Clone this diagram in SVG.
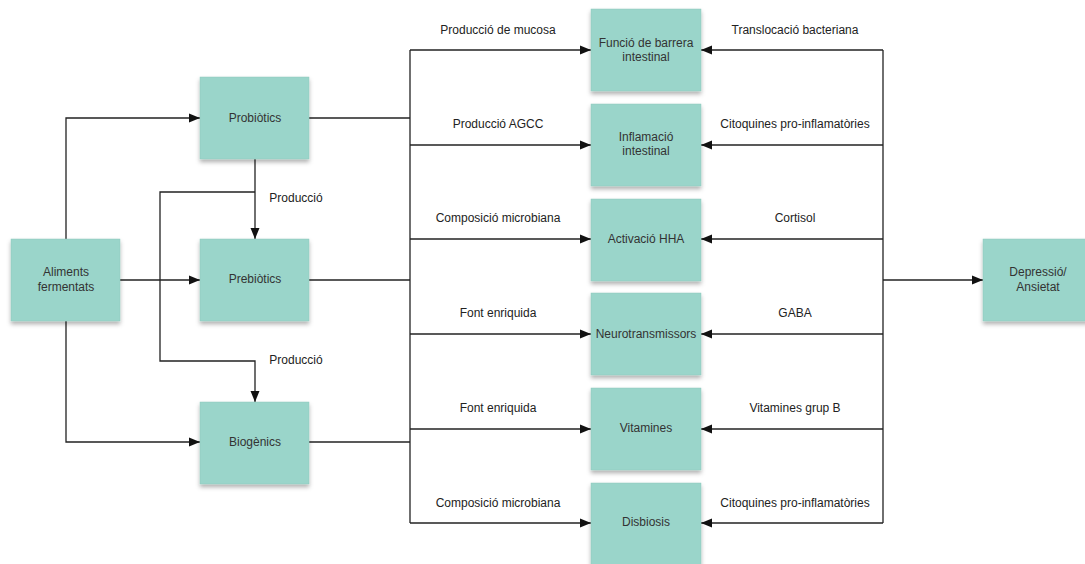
<svg xmlns="http://www.w3.org/2000/svg" width="1085" height="564" viewBox="0 0 1085 564">
<defs>
<marker id="ah" markerWidth="12" markerHeight="10" refX="11" refY="5" orient="auto" markerUnits="userSpaceOnUse">
<path d="M0,0.5 L11,5 L0,9.5 Z" fill="#111"/>
</marker>
<filter id="sh" x="-10%" y="-10%" width="130%" height="130%">
<feDropShadow dx="0" dy="3" stdDeviation="2" flood-color="#000" flood-opacity="0.3"/>
</filter>
<style>
.box{fill:#9AD5CA;stroke:#8ec8bd;stroke-width:0.5;filter:url(#sh)}
.t{font-family:"Liberation Sans",Arial,sans-serif;font-size:12px;fill:#333;text-anchor:middle}
.l{font-family:"Liberation Sans",Arial,sans-serif;font-size:12px;fill:#222;text-anchor:middle}
.c{fill:none;stroke:#222;stroke-width:1.3}
.a{marker-end:url(#ah)}
</style>
</defs>
<rect width="1085" height="564" fill="#fff"/>
<g id="connectors">
<path class="c a" d="M66,239 V118 H200"/>
<path class="c a" d="M120,280 H200"/>
<path class="c a" d="M66,321 V442 H200"/>
<path class="c a" d="M255,159 V239"/>
<path class="c a" d="M255,192 H160 V361 H255 V402"/>
<path class="c" d="M309,118 H410"/>
<path class="c" d="M309,280 H410"/>
<path class="c" d="M309,442 H410"/>
<path class="c" d="M410,50 V523"/>
<path class="c a" d="M410,50 H591"/>
<path class="c a" d="M410,145 H591"/>
<path class="c a" d="M410,239 H591"/>
<path class="c a" d="M410,334 H591"/>
<path class="c a" d="M410,429 H591"/>
<path class="c a" d="M410,523 H591"/>
<path class="c" d="M883,50 V523"/>
<path class="c a" d="M883,50 H701"/>
<path class="c a" d="M883,145 H701"/>
<path class="c a" d="M883,239 H701"/>
<path class="c a" d="M883,334 H701"/>
<path class="c a" d="M883,429 H701"/>
<path class="c a" d="M883,523 H701"/>
<path class="c a" d="M883,280 H983"/>
<text class="l" x="296" y="202">Producció</text>
<text class="l" x="296" y="364">Producció</text>
<text class="l" x="498" y="34">Producció de mucosa</text>
<text class="l" x="498" y="128">Producció AGCC</text>
<text class="l" x="498" y="222">Composició microbiana</text>
<text class="l" x="498" y="317">Font enriquida</text>
<text class="l" x="498" y="412">Font enriquida</text>
<text class="l" x="498" y="507">Composició microbiana</text>
<text class="l" x="795" y="34">Translocació bacteriana</text>
<text class="l" x="795" y="128">Citoquines pro-inflamatòries</text>
<text class="l" x="795" y="222">Cortisol</text>
<text class="l" x="795" y="317">GABA</text>
<text class="l" x="795" y="412">Vitamines grup B</text>
<text class="l" x="795" y="507">Citoquines pro-inflamatòries</text>
</g>
<g id="aliments"><rect class="box" x="11" y="239" width="109" height="82"/><text class="t" x="66" y="276">Aliments</text><text class="t" x="66" y="291">fermentats</text></g>
<g id="probiotics"><rect class="box" x="200" y="77" width="109" height="82"/><text class="t" x="255" y="122">Probiòtics</text></g>
<g id="prebiotics"><rect class="box" x="200" y="239" width="109" height="82"/><text class="t" x="255" y="283">Prebiòtics</text></g>
<g id="biogenics"><rect class="box" x="200" y="402" width="109" height="82"/><text class="t" x="255" y="446">Biogènics</text></g>
<g id="barrera"><rect class="box" x="591" y="9" width="110" height="82"/><text class="t" x="646" y="47">Funció de barrera</text><text class="t" x="646" y="61">intestinal</text></g>
<g id="inflamacio"><rect class="box" x="591" y="104" width="110" height="82"/><text class="t" x="646" y="141">Inflamació</text><text class="t" x="646" y="155">intestinal</text></g>
<g id="hha"><rect class="box" x="591" y="199" width="110" height="82"/><text class="t" x="646" y="243">Activació HHA</text></g>
<g id="neuro"><rect class="box" x="591" y="293" width="110" height="82"/><text class="t" x="646" y="338">Neurotransmissors</text></g>
<g id="vitamines"><rect class="box" x="591" y="388" width="110" height="82"/><text class="t" x="646" y="432">Vitamines</text></g>
<g id="disbiosis"><rect class="box" x="591" y="483" width="110" height="82"/><text class="t" x="646" y="526">Disbiosis</text></g>
<g id="depressio"><rect class="box" x="983" y="239" width="110" height="82"/><text class="t" x="1038" y="276">Depressió/</text><text class="t" x="1038" y="291">Ansietat</text></g>
</svg>
